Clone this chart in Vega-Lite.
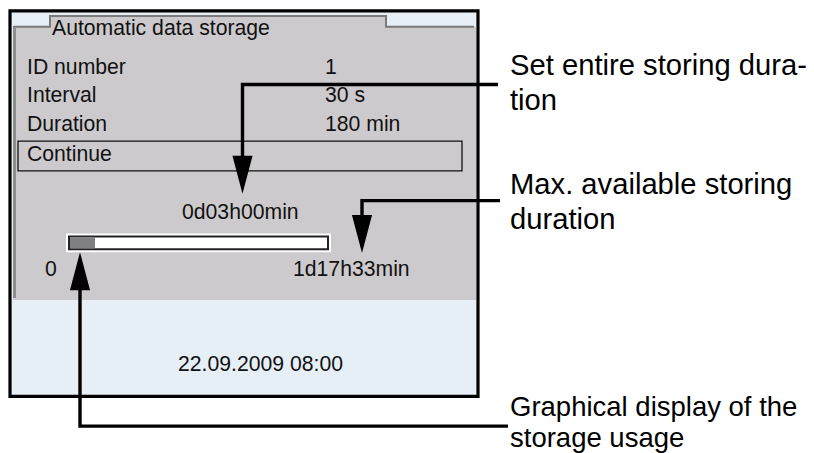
{
  "$schema": "https://vega.github.io/schema/vega-lite/v6.json",
  "width": 814,
  "height": 453,
  "autosize": {"type": "fit", "contains": "padding"},
  "padding": 0,
  "background": "white",
  "config": {"view": {"stroke": null}},
  "datasets": {
    "fills": [
      {"part": "screen", "x": 10, "x2": 478, "y": 11, "y2": 399},
      {"part": "panel", "x": 13, "x2": 476, "y": 27, "y2": 302},
      {"part": "tab", "x": 50, "x2": 386, "y": 16, "y2": 28},
      {"part": "barOuter", "x": 66, "x2": 331, "y": 235, "y2": 254},
      {"part": "barTrack", "x": 68, "x2": 329, "y": 237, "y2": 252},
      {"part": "barInner", "x": 70, "x2": 327, "y": 239, "y2": 250},
      {"part": "barFill", "x": 70, "x2": 95, "y": 239, "y2": 250}
    ],
    "frames": [
      {"part": "border", "x": 10, "x2": 478, "y": 11, "y2": 399},
      {"part": "continue", "x": 18, "x2": 462, "y": 142, "y2": 172}
    ],
    "paths": [
      {"path": "tab", "kind": "bevel", "seq": 1, "x": 13, "y": 27},
      {"path": "tab", "kind": "bevel", "seq": 2, "x": 50, "y": 27},
      {"path": "tab", "kind": "bevel", "seq": 3, "x": 50, "y": 16},
      {"path": "tab", "kind": "bevel", "seq": 4, "x": 386, "y": 16},
      {"path": "tab", "kind": "bevel", "seq": 5, "x": 386, "y": 27},
      {"path": "tab", "kind": "bevel", "seq": 6, "x": 474, "y": 27},
      {"path": "edge", "kind": "edge", "seq": 1, "x": 14.5, "y": 28},
      {"path": "edge", "kind": "edge", "seq": 2, "x": 14.5, "y": 300},
      {"path": "A", "kind": "leader", "seq": 1, "x": 498, "y": 85},
      {"path": "A", "kind": "leader", "seq": 2, "x": 242.5, "y": 85},
      {"path": "A", "kind": "leader", "seq": 3, "x": 242.5, "y": 162},
      {"path": "B", "kind": "leader", "seq": 1, "x": 500, "y": 202},
      {"path": "B", "kind": "leader", "seq": 2, "x": 362, "y": 202},
      {"path": "B", "kind": "leader", "seq": 3, "x": 362, "y": 220},
      {"path": "C", "kind": "leader", "seq": 1, "x": 80, "y": 288},
      {"path": "C", "kind": "leader", "seq": 2, "x": 80, "y": 429},
      {"path": "C", "kind": "leader", "seq": 3, "x": 508, "y": 429}
    ],
    "arrows": [
      {"dir": "down", "x": 242.5, "y": 176},
      {"dir": "down", "x": 362, "y": 235.5},
      {"dir": "up", "x": 80, "y": 273}
    ],
    "screenText": [
      {"label": "Automatic data storage", "x": 52, "y": 35},
      {"label": "ID number", "x": 27, "y": 74},
      {"label": "1", "x": 325, "y": 74},
      {"label": "Interval", "x": 27, "y": 103},
      {"label": "30 s", "x": 325, "y": 103},
      {"label": "Duration", "x": 27, "y": 132},
      {"label": "180 min", "x": 325, "y": 132},
      {"label": "Continue", "x": 27, "y": 162},
      {"label": "0d03h00min", "x": 182, "y": 220},
      {"label": "0", "x": 45, "y": 278},
      {"label": "1d17h33min", "x": 293, "y": 278},
      {"label": "22.09.2009 08:00", "x": 178, "y": 373}
    ],
    "noteText": [
      {"label": "Set entire storing dura-\ntion", "x": 510, "y": 75},
      {"label": "Max. available storing\nduration", "x": 510, "y": 195}
    ],
    "noteTight": [
      {"label": "Graphical display of the\nstorage usage", "x": 510, "y": 419}
    ]
  },
  "layer": [
    {
      "data": {"name": "fills"},
      "mark": {"type": "rect", "strokeWidth": 0},
      "encoding": {
        "x": {"field": "x", "type": "quantitative", "axis": null, "scale": {"domain": [0, 814], "nice": false, "zero": false}},
        "x2": {"field": "x2"},
        "y": {"field": "y", "type": "quantitative", "axis": null, "scale": {"domain": [0, 453], "nice": false, "zero": false, "reverse": true}},
        "y2": {"field": "y2"},
        "color": {"field": "part", "type": "nominal", "legend": null,
          "scale": {"domain": ["screen", "panel", "tab", "barOuter", "barTrack", "barInner", "barFill"],
                    "range": ["#e6eef6", "#cdcacd", "#cdcacd", "#ffffff", "#222222", "#ffffff", "#808083"]}},
        "opacity": {"value": 1}
      }
    },
    {
      "data": {"name": "frames"},
      "transform": [{"filter": "datum.part === 'border'"}],
      "mark": {"type": "rect", "fillOpacity": 0, "filled": false, "stroke": "#000000", "strokeWidth": 3.2},
      "encoding": {
        "x": {"field": "x", "type": "quantitative"},
        "x2": {"field": "x2"},
        "y": {"field": "y", "type": "quantitative"},
        "y2": {"field": "y2"}
      }
    },
    {
      "data": {"name": "frames"},
      "transform": [{"filter": "datum.part === 'continue'"}],
      "mark": {"type": "rect", "fillOpacity": 0, "filled": false, "stroke": "#111111", "strokeWidth": 1.3},
      "encoding": {
        "x": {"field": "x", "type": "quantitative"},
        "x2": {"field": "x2"},
        "y": {"field": "y", "type": "quantitative"},
        "y2": {"field": "y2"}
      }
    },
    {
      "data": {"name": "paths"},
      "transform": [{"filter": "datum.kind === 'bevel'"}],
      "mark": {"type": "line", "strokeCap": "butt", "strokeJoin": "miter", "stroke": "#7a7a7a", "strokeWidth": 2},
      "encoding": {
        "x": {"field": "x", "type": "quantitative"},
        "y": {"field": "y", "type": "quantitative"},
        "detail": {"field": "path", "type": "nominal"},
        "order": {"field": "seq", "type": "quantitative"}
      }
    },
    {
      "data": {"name": "paths"},
      "transform": [{"filter": "datum.kind === 'edge'"}],
      "mark": {"type": "line", "strokeCap": "butt", "stroke": "#8e8e8e", "strokeWidth": 3},
      "encoding": {
        "x": {"field": "x", "type": "quantitative"},
        "y": {"field": "y", "type": "quantitative"},
        "detail": {"field": "path", "type": "nominal"},
        "order": {"field": "seq", "type": "quantitative"}
      }
    },
    {
      "data": {"name": "paths"},
      "transform": [{"filter": "datum.kind === 'leader'"}],
      "mark": {"type": "line", "strokeCap": "butt", "strokeJoin": "miter", "stroke": "#000000", "strokeWidth": 3.4},
      "encoding": {
        "x": {"field": "x", "type": "quantitative"},
        "y": {"field": "y", "type": "quantitative"},
        "detail": {"field": "path", "type": "nominal"},
        "order": {"field": "seq", "type": "quantitative"}
      }
    },
    {
      "data": {"name": "arrows"},
      "mark": {"type": "point", "filled": true, "opacity": 1, "color": "#000000", "strokeWidth": 0},
      "encoding": {
        "x": {"field": "x", "type": "quantitative"},
        "y": {"field": "y", "type": "quantitative"},
        "shape": {"field": "dir", "type": "nominal", "legend": null,
          "scale": {"domain": ["down", "up"], "range": ["M-0.53,-1L0.53,-1L0,1Z", "M-0.53,1L0.53,1L0,-1Z"]}},
        "size": {"value": 1444}
      }
    },
    {
      "data": {"name": "screenText"},
      "mark": {"type": "text", "align": "left", "baseline": "alphabetic", "font": "Liberation Sans", "fontSize": 21.2, "color": "#111111"},
      "encoding": {
        "x": {"field": "x", "type": "quantitative"},
        "y": {"field": "y", "type": "quantitative"},
        "text": {"field": "label", "type": "nominal"}
      }
    },
    {
      "data": {"name": "noteText"},
      "mark": {"type": "text", "align": "left", "baseline": "alphabetic", "font": "Liberation Sans", "fontSize": 29.2, "color": "#000000", "lineBreak": "\n", "lineHeight": 35},
      "encoding": {
        "x": {"field": "x", "type": "quantitative"},
        "y": {"field": "y", "type": "quantitative"},
        "text": {"field": "label", "type": "nominal"}
      }
    },
    {
      "data": {"name": "noteTight"},
      "mark": {"type": "text", "align": "left", "baseline": "alphabetic", "font": "Liberation Sans", "fontSize": 27.5, "color": "#000000", "lineBreak": "\n", "lineHeight": 31},
      "encoding": {
        "x": {"field": "x", "type": "quantitative"},
        "y": {"field": "y", "type": "quantitative"},
        "text": {"field": "label", "type": "nominal"}
      }
    }
  ]
}
